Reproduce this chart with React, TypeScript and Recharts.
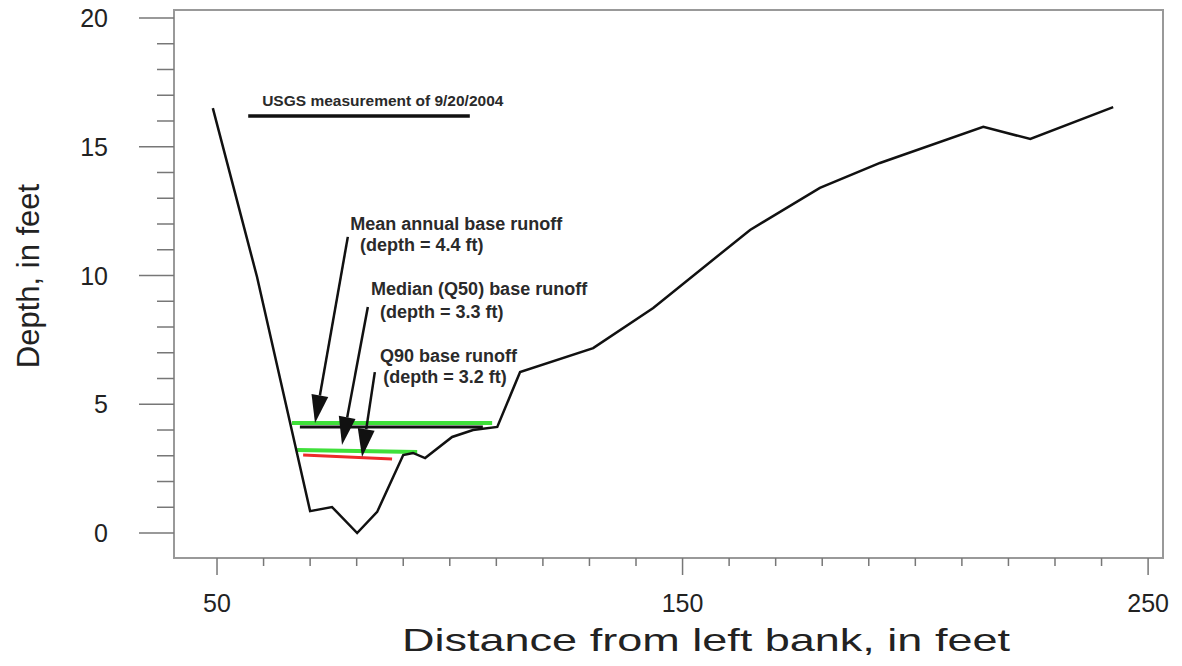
import {
  ComposedChart,
  Line,
  XAxis,
  YAxis,
  ReferenceLine,
  ReferenceDot,
  ReferenceArea,
  Label,
} from "recharts";

// channel cross-section
const DIST = [49.1, 58.6, 70.0, 74.7, 80.1, 84.4, 90.0, 92.1, 94.7, 100.5, 105.0, 110.2, 115.1, 130.8, 143.7, 164.5, 179.5, 192.4, 214.6, 224.7, 242.5];
const DEPTH = [16.5, 9.94, 0.85, 1.01, 0, 0.82, 3.03, 3.11, 2.91, 3.73, 4.0, 4.12, 6.25, 7.18, 8.74, 11.77, 13.4, 14.37, 15.77, 15.3, 16.54];

// water-level lines (green mean, black measured, green median, red Q90)
const LEVEL_X1 = [66.1, 67.8, 67.2, 68.5];
const LEVEL_X2 = [109.1, 107.1, 93.0, 87.6];
const LEVEL_Y1 = [4.27, 4.12, 3.22, 3.03];
const LEVEL_Y2 = [4.27, 4.12, 3.15, 2.87];

// legend bar for the USGS measurement
const USGS_X = [56.7, 104.3];
const USGS_Y = 16.19;

const NOTE_TEXT = [
  "USGS measurement of 9/20/2004",
  "Mean annual base runoff",
  "(depth = 4.4 ft)",
  "Median (Q50) base runoff",
  "(depth = 3.3 ft)",
  "Q90 base runoff",
  "(depth = 3.2 ft)",
];
const NOTE_X = [59.7, 78.6, 80.7, 83.1, 85.0, 85.0, 85.7];
const NOTE_Y = [16.58, 11.77, 10.95, 9.24, 8.35, 6.64, 5.83];

const ARROW_FROM_X = [78.1, 82.4, 83.9];
const ARROW_FROM_Y = [11.5, 8.78, 6.25];
const ARROW_TO_X = [71.05, 76.85, 81.15];
const ARROW_TO_Y = [4.27, 3.42, 2.95];

const X_TICKS = [50, 60, 70, 80, 90, 100, 110, 120, 130, 140, 150, 160, 170, 180, 190, 200, 210, 220, 230, 240, 250];
const X_LABELS = [50, 150, 250];
const Y_TICKS = [0, 1, 2, 3, 4, 5, 6, 7, 8, 9, 10, 11, 12, 13, 14, 15, 16, 17, 18, 19, 20];
const Y_LABELS = [0, 5, 10, 15, 20];

const X_DOMAIN = [40.76, 253.2];
const Y_DOMAIN = [-0.97, 20.31];

const data = DIST.map((d, i) => ({ dist: d, depth: DEPTH[i] }));

const FONT = "'Liberation Sans', Arial, sans-serif";
const GREEN = "#3fe03a";
const RED = "#ee2a2a";
const LEVEL_STYLE = [
  { stroke: GREEN, width: 4 },
  { stroke: "#111", width: 3 },
  { stroke: GREEN, width: 4 },
  { stroke: RED, width: 3 },
];

const XTick = (p: any) => {
  const v = p.payload.value;
  const major = X_LABELS.includes(v);
  return (
    <g>
      <line x1={p.x} x2={p.x} y1={p.y} y2={p.y + (major ? 17 : 8)} stroke="#777" strokeWidth={1.5} />
      {major && (
        <text x={p.x} y={p.y + 54} textAnchor="middle" fontSize={25} fontFamily={FONT} fill="#222">
          {v}
        </text>
      )}
    </g>
  );
};

const YTick = (p: any) => {
  const v = p.payload.value;
  const major = Y_LABELS.includes(v);
  return (
    <g>
      <line x1={p.x} x2={p.x - (major ? 35 : 17)} y1={p.y} y2={p.y} stroke="#777" strokeWidth={1.5} />
      {major && (
        <text x={p.x - 66} y={p.y + 9} textAnchor="end" fontSize={25} fontFamily={FONT} fill="#222">
          {v}
        </text>
      )}
    </g>
  );
};

const Arrow = (p: any) => {
  const { x1, y1, x2, y2 } = p;
  const dx = x2 - x1;
  const dy = y2 - y1;
  const len = Math.hypot(dx, dy) || 1;
  const ux = dx / len;
  const uy = dy / len;
  const hl = 28;
  const hw = 8.5;
  const bx = x2 - ux * hl;
  const by = y2 - uy * hl;
  return (
    <g>
      <line x1={x1} y1={y1} x2={bx} y2={by} stroke="#111" strokeWidth={2.5} />
      <polygon
        points={`${x2},${y2} ${bx - uy * hw},${by + ux * hw} ${bx + uy * hw},${by - ux * hw}`}
        fill="#111"
      />
    </g>
  );
};

export default function App() {
  return (
    <div style={{ position: "absolute", left: 0, top: 0, background: "#fff" }}>
      <ComposedChart
        width={1182}
        height={666}
        data={data}
        margin={{ top: 10, right: 19, left: 0, bottom: 0 }}
      >
        <XAxis
          dataKey="dist"
          type="number"
          domain={X_DOMAIN}
          ticks={X_TICKS}
          interval={0}
          allowDataOverflow
          height={108}
          axisLine={false}
          tickLine={false}
          tickSize={0}
          tickMargin={0}
          tick={<XTick />}
        >
          <Label
            content={(props: any) => {
              const vb = props.viewBox;
              return (
                <text
                  x={402}
                  y={vb.y + 93}
                  fontSize={32}
                  textLength={608}
                  lengthAdjust="spacingAndGlyphs"
                  fontFamily={FONT}
                  fill="#222"
                >
                  Distance from left bank, in feet
                </text>
              );
            }}
          />
        </XAxis>
        <YAxis
          type="number"
          domain={Y_DOMAIN}
          ticks={Y_TICKS}
          interval={0}
          allowDataOverflow
          width={174}
          axisLine={false}
          tickLine={false}
          tickSize={0}
          tickMargin={0}
          tick={<YTick />}
        >
          <Label
            content={(props: any) => {
              const vb = props.viewBox;
              const cy = vb.y + vb.height / 2 - 8;
              return (
                <text x={39} y={cy} transform={`rotate(-90 39 ${cy})`} textAnchor="middle" fontSize={31} fontFamily={FONT} fill="#222">
                  Depth, in feet
                </text>
              );
            }}
          />
        </YAxis>

        <ReferenceArea
          x1={X_DOMAIN[0]}
          x2={X_DOMAIN[1]}
          y1={Y_DOMAIN[0]}
          y2={Y_DOMAIN[1]}
          fill="none"
          stroke="#999"
          strokeWidth={2}
          fillOpacity={0}
        />

        {LEVEL_X1.map((x, i) => (
          <ReferenceLine
            key={`lvl${i}`}
            segment={[
              { x, y: LEVEL_Y1[i] },
              { x: LEVEL_X2[i], y: LEVEL_Y2[i] },
            ]}
            stroke={LEVEL_STYLE[i].stroke}
            strokeWidth={LEVEL_STYLE[i].width}
          />
        ))}

        <ReferenceLine
          segment={[
            { x: USGS_X[0], y: USGS_Y },
            { x: USGS_X[1], y: USGS_Y },
          ]}
          stroke="#111"
          strokeWidth={3.5}
        />

        {ARROW_FROM_X.map((x, i) => (
          <ReferenceLine
            key={`arr${i}`}
            segment={[
              { x, y: ARROW_FROM_Y[i] },
              { x: ARROW_TO_X[i], y: ARROW_TO_Y[i] },
            ]}
            shape={<Arrow />}
          />
        ))}

        {NOTE_TEXT.map((t, i) => (
          <ReferenceDot
            key={`note${i}`}
            x={NOTE_X[i]}
            y={NOTE_Y[i]}
            r={0}
            shape={(p: any) => (
              <text
                x={p.cx}
                y={p.cy}
                fontSize={i === 0 ? 15.5 : 18}
                fontWeight="bold"
                fontFamily={FONT}
                fill="#2a2a2a"
              >
                {t}
              </text>
            )}
          />
        ))}

        <Line
          dataKey="depth"
          type="linear"
          stroke="#111"
          strokeWidth={2.5}
          dot={false}
          isAnimationActive={false}
        />
      </ComposedChart>
    </div>
  );
}
